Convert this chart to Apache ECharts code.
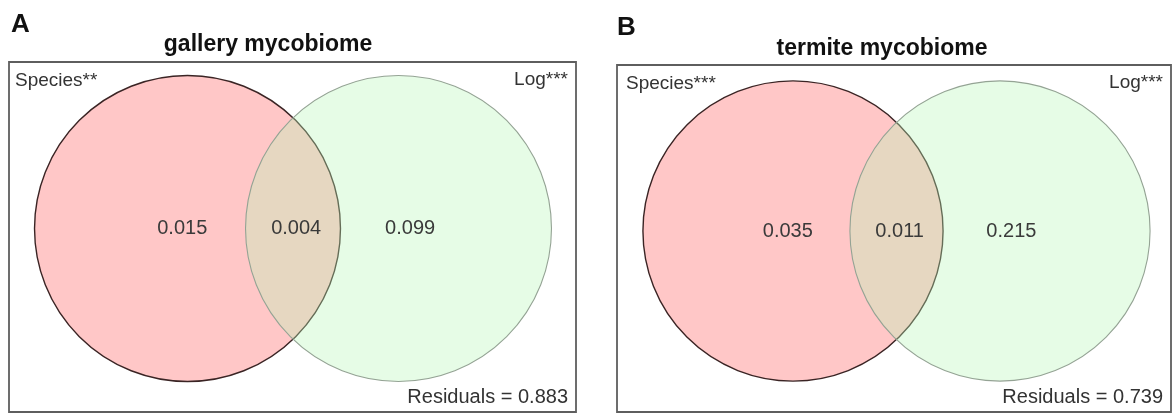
<!DOCTYPE html>
<html>
<head>
<meta charset="utf-8">
<script src="https://cdn.jsdelivr.net/npm/echarts@6/dist/echarts.min.js"></script>
<style>html,body{margin:0;padding:0;background:#fff;}#c{width:1174px;height:416px;}</style>
</head>
<body>
<div id="c"></div>
<script>
// ---- data ----
const panelLetters = ['A', 'B'];
const panelTitles = ['gallery mycobiome', 'termite mycobiome'];
const setNamesA = ['Species**', 'Log***'];
const setNamesB = ['Species***', 'Log***'];
const fractionsA = [0.015, 0.004, 0.099];   // Species only, shared, Log only
const fractionsB = [0.035, 0.011, 0.215];
const residuals = [0.883, 0.739];
const circleCentersX = [0, 1];               // vegan showvarparts layout
const circleRadius = 0.725;
const fractionLabelX = [-0.025, 0.515, 1.055];

// ---- layout ----
const panels = [
  { box: { left: 9, top: 62, right: 576, bottom: 412 }, cy: 228.5, names: setNamesA, fr: fractionsA, pad: 6 },
  { box: { left: 617, top: 65, right: 1171, bottom: 412 }, cy: 231, names: setNamesB, fr: fractionsB, pad: 9 }
];
const unitPx = [211, 207];
const midPx = [293, 896.5];

const chart = echarts.init(document.getElementById('c'), null, { renderer: 'canvas' });
const grids = [], xAxes = [], yAxes = [], series = [], graphics = [];
const font = '"Liberation Sans", Arial, sans-serif';

panels.forEach((p, i) => {
  const b = p.box, u = unitPx[i];
  grids.push({ left: b.left, top: b.top, width: b.right - b.left, height: b.bottom - b.top,
    show: true, borderColor: '#5e5e5e', borderWidth: 1.8, backgroundColor: 'transparent' });
  xAxes.push({ type: 'value', gridIndex: i, show: false,
    min: 0.5 - (midPx[i] - b.left) / u, max: 0.5 + (b.right - midPx[i]) / u });
  yAxes.push({ type: 'value', gridIndex: i, show: false,
    min: -(b.bottom - p.cy) / u, max: (p.cy - b.top) / u });

  const styles = [
    { fill: '#ffc7c7', stroke: '#3a2424', lineWidth: 1.4 },
    { fill: 'rgba(184,246,184,0.35)', stroke: '#94a394', lineWidth: 1.1 }
  ];
  series.push({
    type: 'custom', xAxisIndex: i, yAxisIndex: i, silent: true, clip: false,
    data: circleCentersX.map((x, k) => [x, 0, circleRadius, k]),
    renderItem: (params, api) => {
      const c = api.coord([api.value(0), api.value(1)]);
      const r = api.size([api.value(2), 0])[0];
      return { type: 'circle', shape: { cx: c[0], cy: c[1], r: r }, style: styles[api.value(3)] };
    }
  });
  series.push({
    type: 'custom', xAxisIndex: i, yAxisIndex: i, silent: true, clip: false, z: 5,
    data: fractionLabelX.map((x, k) => [x, 0, p.fr[k]]),
    renderItem: (params, api) => {
      const c = api.coord([api.value(0), api.value(1)]);
      return { type: 'text', x: c[0], y: c[1],
        style: { text: api.value(2).toFixed(3), align: 'center', verticalAlign: 'middle',
          font: '20px ' + font, fill: '#3a3a3a' } };
    }
  });

  graphics.push({ type: 'text', x: b.left + p.pad, y: b.top + 19,
    style: { text: p.names[0], font: '19px ' + font, fill: '#333', align: 'left', verticalAlign: 'middle' } });
  graphics.push({ type: 'text', x: b.right - 8, y: b.top + 18,
    style: { text: p.names[1], font: '19px ' + font, fill: '#333', align: 'right', verticalAlign: 'middle' } });
  graphics.push({ type: 'text', x: b.right - 8, y: b.bottom - 15,
    style: { text: 'Residuals = ' + residuals[i].toFixed(3), font: '20px ' + font, fill: '#333', align: 'right', verticalAlign: 'middle' } });
});

graphics.push({ type: 'text', x: 11, y: 25,
  style: { text: panelLetters[0], font: 'bold 26px ' + font, fill: '#111', align: 'left', verticalAlign: 'middle' } });
graphics.push({ type: 'text', x: 617, y: 28,
  style: { text: panelLetters[1], font: 'bold 26px ' + font, fill: '#111', align: 'left', verticalAlign: 'middle' } });
graphics.push({ type: 'text', x: 268, y: 45,
  style: { text: panelTitles[0], font: 'bold 23px ' + font, fill: '#111', align: 'center', verticalAlign: 'middle' } });
graphics.push({ type: 'text', x: 882, y: 49,
  style: { text: panelTitles[1], font: 'bold 23px ' + font, fill: '#111', align: 'center', verticalAlign: 'middle' } });

chart.setOption({
  animation: false,
  backgroundColor: '#fff',
  grid: grids, xAxis: xAxes, yAxis: yAxes, series: series, graphic: graphics
});
</script>
</body>
</html>
